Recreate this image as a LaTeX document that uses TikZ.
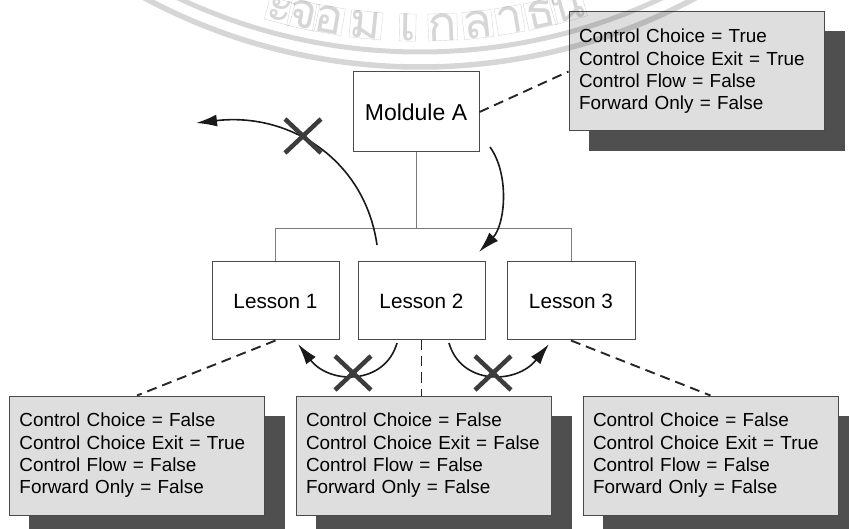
\documentclass[tikz,border=0pt]{standalone}
\usepackage{fontspec}
\setmainfont{Liberation Sans}
\newfontfamily\thaifont[Script=Thai]{Loma}
\usetikzlibrary{arrows.meta,calc,backgrounds}
\definecolor{boxfill}{HTML}{DEDEDE}
\definecolor{shadowc}{HTML}{4F4F4F}
\definecolor{edge}{HTML}{4A4A4A}
\definecolor{busc}{HTML}{7A7A7A}
\definecolor{crossc}{HTML}{3C3C3C}

\begin{document}
\begin{tikzpicture}[x=1pt,y=-1pt,
  plain/.style={draw=edge, line width=1pt, fill=white, inner sep=0pt},
  modulebox/.style={plain, minimum width=126pt, minimum height=80pt,
    font=\fontsize{23}{27}\selectfont},
  lessonbox/.style={plain, minimum width=127pt, minimum height=78pt,
    font=\fontsize{20.7}{24}\selectfont},
  infobox/.style={draw=edge, line width=1pt, fill=boxfill,
    minimum width=255pt, minimum height=119pt, text width=235pt,
    align=left, inner xsep=10pt, inner ysep=0pt,
    font=\fontsize{18.9}{22.4}\selectfont},
  bus/.style={draw=busc, line width=0.9pt},
  link/.style={dash pattern=on 10pt off 6pt, line width=1.9pt, draw=black!85},
  flow/.style={line width=1.6pt, draw=black!90,
    -{Latex[length=21pt,width=12pt]}},
  cross/.style={line width=4.5pt, draw=crossc},
  wm/.style={draw=black, text=black, opacity=0.16},
  wmchar/.style={wm, anchor=base, inner sep=0pt,
    font=\thaifont\fontsize{48}{48}\selectfont}
]
\useasboundingbox (0,0) rectangle (849,529);

% module, lessons and property boxes
\node[modulebox] (modA) at (416,112) {Moldule A};
\node[lessonbox] (L1) at (275.5,301) {Lesson 1};
\node[lessonbox] (L2) at (421.5,301) {Lesson 2};
\node[lessonbox, minimum width=128pt] (L3) at (571,301) {Lesson 3};

\node[infobox] (tbox) at (696.5,71.5) {Control Choice = True\\Control Choice Exit = True\\Control Flow = False\\Forward Only = False};
\node[infobox] (box1) at (137,455.5) {Control Choice = False\\Control Choice Exit = True\\Control Flow = False\\Forward Only = False};
\node[infobox] (box2) at (423.5,455.5) {Control Choice = False\\Control Choice Exit = False\\Control Flow = False\\Forward Only = False};
\node[infobox] (box3) at (710.5,455.5) {Control Choice = False\\Control Choice Exit = True\\Control Flow = False\\Forward Only = False};

% drop shadows behind the property boxes
\begin{scope}[on background layer]
  \foreach \b in {tbox,box1,box2,box3}
    \fill[shadowc] ($(\b.north west)+(20,20)$) rectangle ($(\b.south east)+(20,20)$);
\end{scope}

% hierarchy lines
\coordinate (bus) at (416,228);
\draw[bus] (modA.south) -- (bus);
\draw[bus] (L1.north) -- (L1.north |- bus) -- (L3.north |- bus) -- (L3.north);

% dashed links to the property boxes
\draw[link] (modA.east) -- (tbox.west);
\draw[link] (L1.south) -- (box1.north);
\draw[link] (L2.south) -- (L2.south |- box2.north);
\draw[link] (L3.south) -- (box3.north);

% navigation arrows
\coordinate (upS) at (377,245);
\coordinate (upE) at (196,123);
\draw[flow] (upS) .. controls (365,160) and (290,112) .. (upE);

\coordinate (dnS) at (490,147);
\coordinate (dnE) at (479,252);
\draw[flow] (dnS) .. controls (510,175) and (505,225) .. (dnE);

\coordinate (lfS) at (397,343);
\coordinate (lfE) at (298,344);
\draw[flow] (lfS) .. controls (385,385) and (330,385) .. (lfE);

\coordinate (rtS) at (449,343);
\coordinate (rtE) at (549,344);
\draw[flow] (rtS) .. controls (461,385) and (516,385) .. (rtE);

% blocked moves
\coordinate (xa) at (303,136);
\coordinate (xb) at (353,373);
\coordinate (xc) at (493,373);
\foreach \c in {xa,xb,xc} {
  \draw[cross] ($(\c)+(-18,-17)$) -- ($(\c)+(18,17)$);
  \draw[cross] ($(\c)+(18,-17)$) -- ($(\c)+(-18,17)$);
}

% seal overlay
\coordinate (seal) at (420,-516);
\draw[wm, line width=5pt] (seal) circle[radius=568];
\draw[wm, line width=5.5pt] (seal) circle[radius=583];
\foreach \b/\ch in {-14.9/ะ,-12.4/จ,-9.65/อ,-5.7/ม,-1.3/เ,2.4/ก,6.1/ล,9.5/า,12.8/ธ,15.8/น}
  \node[wmchar, rotate=\b] at ({420+557*sin(\b)},{-516+557*cos(\b)}) {\ch};
\end{tikzpicture}
\end{document}
